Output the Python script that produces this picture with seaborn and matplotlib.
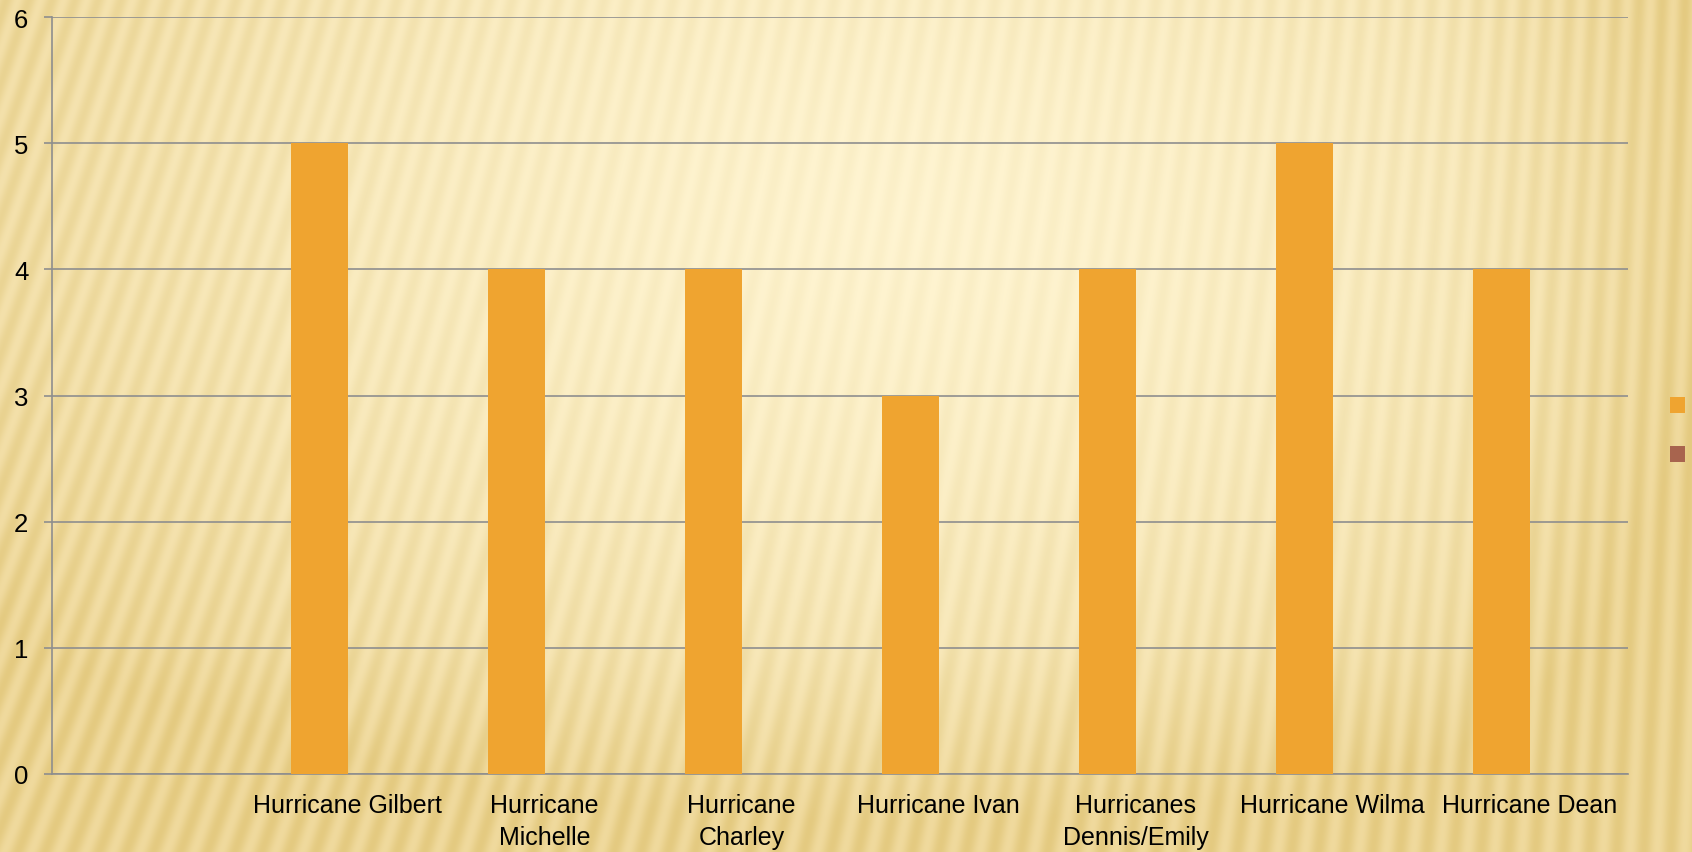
import numpy as np
import pandas as pd
import matplotlib
matplotlib.use("Agg")
import matplotlib.pyplot as plt
from matplotlib.patches import Patch
from matplotlib.ticker import FixedLocator
import seaborn as sns

# Saffir-Simpson category of major hurricanes
categories = ["", "Hurricane Gilbert", "Hurricane\nMichelle", "Hurricane\nCharley",
              "Hurricane Ivan", "Hurricanes\nDennis/Emily", "Hurricane Wilma", "Hurricane Dean"]
series_names = ["Series1", "Series2"]
series1_values = [np.nan, 5, 4, 4, 3, 4, 5, 4]
series2_values = [np.nan] * 8
y_ticks = [0, 1, 2, 3, 4, 5, 6]

ORANGE = "#EFA430"
BROWN = "#A8644E"
GRID = "#8E8E8E"

rows = []
for name, vals in zip(series_names, [series1_values, series2_values]):
    for cat, v in zip(categories, vals):
        if not np.isnan(v):
            rows.append({"category": cat, "series": name, "value": v})
df = pd.DataFrame(rows, columns=["category", "series", "value"])

sns.set_style("white")
plt.rcParams["font.family"] = ["Liberation Sans", "DejaVu Sans"]
plt.rcParams["text.color"] = "black"
plt.rcParams["xtick.labelcolor"] = "black"
plt.rcParams["ytick.labelcolor"] = "black"

W, H = 1692, 853
fig = plt.figure(figsize=(W / 100, H / 100), dpi=100)

# warm gold backdrop with soft slanted stripes
yy, xx = np.mgrid[0:H, 0:W].astype(float)
d = np.sqrt(((xx - 900) / 1100) ** 2 + ((yy - 220) / 700) ** 2)
t = np.clip(d, 0, 1) ** 1.6
t = np.clip(t + 0.35 * np.clip((xx - 1450) / 242, 0, 1) + 0.25 * np.clip((yy - 650) / 203, 0, 1), 0, 1)
light = np.array([253, 242, 205]) / 255
dark = np.array([234, 210, 143]) / 255
base = light[None, None, :] * (1 - t[..., None]) + dark[None, None, :] * t[..., None]
slant = 0.34 - 0.30 * (xx / W)
phase = (xx + slant * yy) / 23.0
amp = 0.007 + 0.016 * t
stripes = np.sin(2 * np.pi * phase)[..., None] * amp[..., None] * np.array([1.0, 1.3, 2.4])
img = np.clip(base - stripes, 0, 1)
bg = fig.add_axes([0, 0, 1, 1], zorder=-10)
bg.imshow(img, aspect="auto", interpolation="bilinear")
bg.axis("off")

ax = fig.add_axes([52 / W, 1 - 775 / H, 1576 / W, 757 / H])
ax.patch.set_alpha(0)

sns.barplot(data=df, x="category", y="value", hue="series", order=categories,
            hue_order=series_names, palette=[ORANGE, BROWN], width=0.57, dodge=True,
            errorbar=None, saturation=1, linewidth=0, legend=False, ax=ax, zorder=3)

ax.set_xlim(-0.5, len(categories) - 0.5)
ax.set_ylim(0, 6)
ax.set_yticks(y_ticks)
ax.set_xlabel("")
ax.set_ylabel("")
ax.grid(axis="y", color=GRID, lw=1.2, zorder=0)
ax.set_axisbelow(True)
for s in ["top", "right"]:
    ax.spines[s].set_visible(False)
for s in ["left", "bottom"]:
    ax.spines[s].set_color(GRID)
    ax.spines[s].set_linewidth(1.2)

ax.xaxis.set_minor_locator(FixedLocator(np.arange(-0.5, len(categories), 1.0)))
ax.tick_params(axis="x", which="major", length=0, pad=14, labelsize=18, labelcolor="black")
ax.tick_params(axis="x", which="minor", length=6, width=1.2, color=GRID, direction="out")
ax.tick_params(axis="y", length=6, width=1.2, color=GRID, pad=11, labelsize=18.5,
               left=True, labelcolor="black")
for lab in ax.get_xticklabels():
    lab.set_linespacing(1.4)
    lab.set_verticalalignment("top")

handles = [Patch(facecolor=ORANGE, edgecolor="none"), Patch(facecolor=BROWN, edgecolor="none")]
fig.legend(handles, ["", ""], loc="center", bbox_to_anchor=(1677.5 / W, 1 - 432 / H),
           frameon=False, handlelength=0.6, handleheight=0.6, handletextpad=0,
           borderpad=0, borderaxespad=0, labelspacing=1.0, fontsize=18)

fig.savefig("out.png", dpi=100)
